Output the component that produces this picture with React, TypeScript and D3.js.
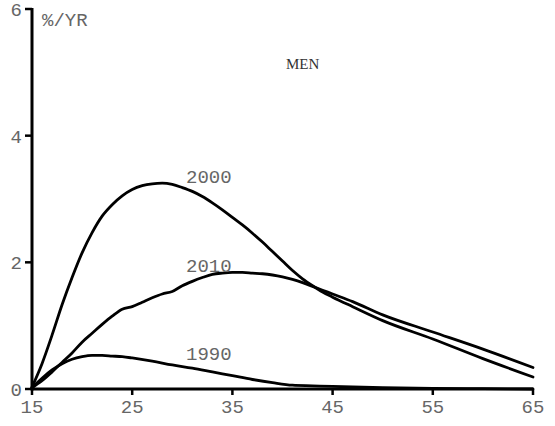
import React from "react";
import * as d3 from "d3";

const ages1990 = [15, 16, 17, 18, 19, 20, 21, 22, 23, 24, 25, 27, 29, 31, 33, 35, 37, 39, 41, 43, 45, 50, 55, 60, 65];
const vals1990 = [0.02, 0.17, 0.3, 0.4, 0.47, 0.51, 0.53, 0.53, 0.52, 0.51, 0.49, 0.44, 0.38, 0.33, 0.27, 0.21, 0.15, 0.1, 0.06, 0.05, 0.04, 0.02, 0.01, 0.005, 0];

const ages2000 = [15, 16, 17, 18, 19, 20, 21, 22, 23, 24, 25, 26, 27, 28, 29, 30, 31, 32, 33, 34, 35, 36, 37, 38, 39, 40, 41, 42, 43, 44, 45, 47, 50, 55, 60, 65];
const vals2000 = [0.03, 0.4, 0.85, 1.33, 1.76, 2.15, 2.47, 2.73, 2.91, 3.05, 3.15, 3.21, 3.24, 3.25, 3.23, 3.18, 3.12, 3.04, 2.94, 2.83, 2.71, 2.59, 2.46, 2.32, 2.17, 2.02, 1.87, 1.74, 1.63, 1.53, 1.45, 1.3, 1.08, 0.79, 0.48, 0.19];

const ages2010 = [15, 16, 17, 18, 19, 20, 21, 22, 23, 24, 25, 26, 27, 28, 29, 30, 31, 32, 33, 34, 35, 36, 37, 38, 39, 40, 41, 42, 43, 44, 45, 47, 50, 55, 60, 65];
const vals2010 = [0.02, 0.13, 0.27, 0.42, 0.57, 0.74, 0.88, 1.02, 1.15, 1.26, 1.3, 1.37, 1.44, 1.5, 1.54, 1.63, 1.7, 1.76, 1.81, 1.83, 1.84, 1.84, 1.83, 1.82, 1.8, 1.77, 1.73, 1.68, 1.62, 1.56, 1.5, 1.38, 1.17, 0.9, 0.63, 0.34];

const xTicks = [15, 25, 35, 45, 55, 65];
const yTicks = [0, 2, 4, 6];

const seriesLabels = ["1990", "2000", "2010"];
const labelBaselines = [360, 183, 272];

const W = 555;
const H = 426;

export default function App() {
  const x = d3.scaleLinear().domain([15, 65]).range([32, 533]);
  const y = d3.scaleLinear().domain([0, 6]).range([389, 9]);

  const line = d3
    .line<[number, number]>()
    .x((d) => x(d[0]))
    .y((d) => y(d[1]))
    .curve(d3.curveMonotoneX);

  const series = [
    ages1990.map((a, i) => [a, vals1990[i]] as [number, number]),
    ages2000.map((a, i) => [a, vals2000[i]] as [number, number]),
    ages2010.map((a, i) => [a, vals2010[i]] as [number, number]),
  ];

  const mono = "'Liberation Mono', monospace";
  const gray = "#666";

  return (
    <div style={{ position: "absolute", left: 0, top: 0 }}>
      <svg width={W} height={H} style={{ display: "block", background: "#fff" }}>
        {series.map((s, i) => (
          <path
            key={i}
            d={line(s) || ""}
            fill="none"
            stroke="#000"
            strokeWidth={2.8}
            strokeLinejoin="round"
            strokeLinecap="round"
          />
        ))}
        {/* x axis */}
        <line x1={x(15)} x2={x(65)} y1={y(0)} y2={y(0)} stroke="#000" strokeWidth={3} />
        {xTicks.map((t) => (
          <g key={t}>
            <line x1={x(t)} x2={x(t)} y1={y(0)} y2={y(0) + 6} stroke="#000" strokeWidth={2.5} />
            <text
              x={x(t)}
              y={413}
              textAnchor="middle"
              fontFamily={mono}
              fontSize={19}
              fill={gray}
            >
              {t}
            </text>
          </g>
        ))}
        {/* y axis */}
        <line x1={x(15)} x2={x(15)} y1={y(6) - 1} y2={y(0) + 1.5} stroke="#000" strokeWidth={3} />
        {yTicks.map((t) => (
          <g key={t}>
            <line x1={x(15) - 7} x2={x(15)} y1={y(t)} y2={y(t)} stroke="#000" strokeWidth={2.5} />
            <text
              x={x(15) - 10}
              y={y(t) + 7}
              textAnchor="end"
              fontFamily={mono}
              fontSize={19}
              fill={gray}
            >
              {t}
            </text>
          </g>
        ))}
        <text x={42} y={26} fontFamily={mono} fontSize={19} fill={gray}>
          %/YR
        </text>
        <text x={286} y={69} fontFamily="'Liberation Serif', serif" fontSize={15} fill="#333">
          MEN
        </text>
        {seriesLabels.map((lab, i) => (
          <text
            key={lab}
            x={186}
            y={labelBaselines[i]}
            fontFamily={mono}
            fontSize={19}
            fill={gray}
          >
            {lab}
          </text>
        ))}
      </svg>
    </div>
  );
}
